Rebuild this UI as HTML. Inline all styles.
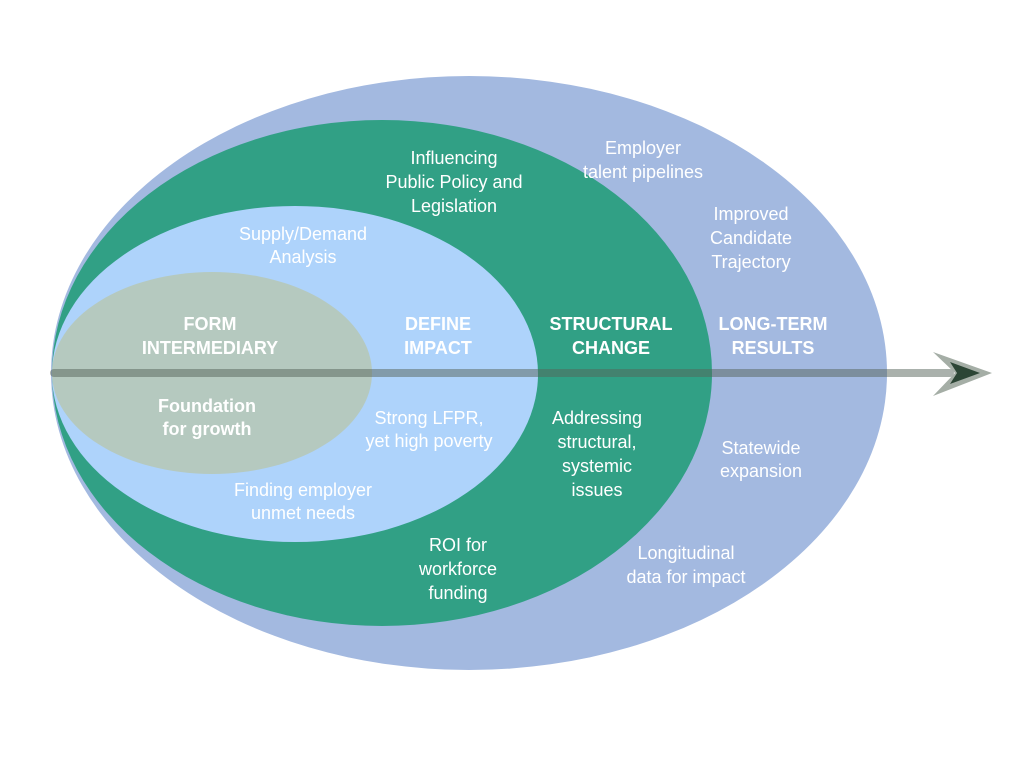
<!DOCTYPE html>
<html><head><meta charset="utf-8"><style>
body{margin:0;background:#fff;}
svg text{font-family:"Liberation Sans",sans-serif;font-size:18px;fill:#fff;text-anchor:middle;}
.b{font-weight:bold;}
</style></head><body>
<svg width="1024" height="768" viewBox="0 0 1024 768">
<ellipse cx="469" cy="373" rx="418" ry="297" fill="#a3b9e0"/>
<ellipse cx="382" cy="373" rx="330" ry="253" fill="#31a085"/>
<ellipse cx="295" cy="374" rx="243" ry="168" fill="#aed3fb"/>
<ellipse cx="212" cy="373" rx="160" ry="101" fill="#b5c9bf"/>
<line x1="54" y1="373" x2="950" y2="373" stroke="rgb(85,100,90)" stroke-opacity="0.5" stroke-width="8" stroke-linecap="round"/>
<polygon points="933,352 992,373 933,396 955,373" fill="#a5aea6"/>
<polygon points="950,362 980,373 950,384 957,373" fill="#2c4535"/>
<text x="210" y="330" class="b">FORM</text>
<text x="210" y="354" class="b">INTERMEDIARY</text>
<text x="207" y="412" class="b">Foundation</text>
<text x="207" y="435" class="b">for growth</text>
<text x="438" y="330" class="b">DEFINE</text>
<text x="438" y="354" class="b">IMPACT</text>
<text x="303" y="240">Supply/Demand</text>
<text x="303" y="263">Analysis</text>
<text x="429" y="424">Strong LFPR,</text>
<text x="429" y="447">yet high poverty</text>
<text x="303" y="496">Finding employer</text>
<text x="303" y="519">unmet needs</text>
<text x="611" y="330" class="b">STRUCTURAL</text>
<text x="611" y="354" class="b">CHANGE</text>
<text x="454" y="164">Influencing</text>
<text x="454" y="188">Public Policy and</text>
<text x="454" y="212">Legislation</text>
<text x="597" y="424">Addressing</text>
<text x="597" y="448">structural,</text>
<text x="597" y="472">systemic</text>
<text x="597" y="496">issues</text>
<text x="458" y="551">ROI for</text>
<text x="458" y="575">workforce</text>
<text x="458" y="599">funding</text>
<text x="773" y="330" class="b">LONG-TERM</text>
<text x="773" y="354" class="b">RESULTS</text>
<text x="643" y="154">Employer</text>
<text x="643" y="178">talent pipelines</text>
<text x="751" y="220">Improved</text>
<text x="751" y="244">Candidate</text>
<text x="751" y="268">Trajectory</text>
<text x="761" y="454">Statewide</text>
<text x="761" y="477">expansion</text>
<text x="686" y="559">Longitudinal</text>
<text x="686" y="583">data for impact</text>
</svg>
</body></html>
